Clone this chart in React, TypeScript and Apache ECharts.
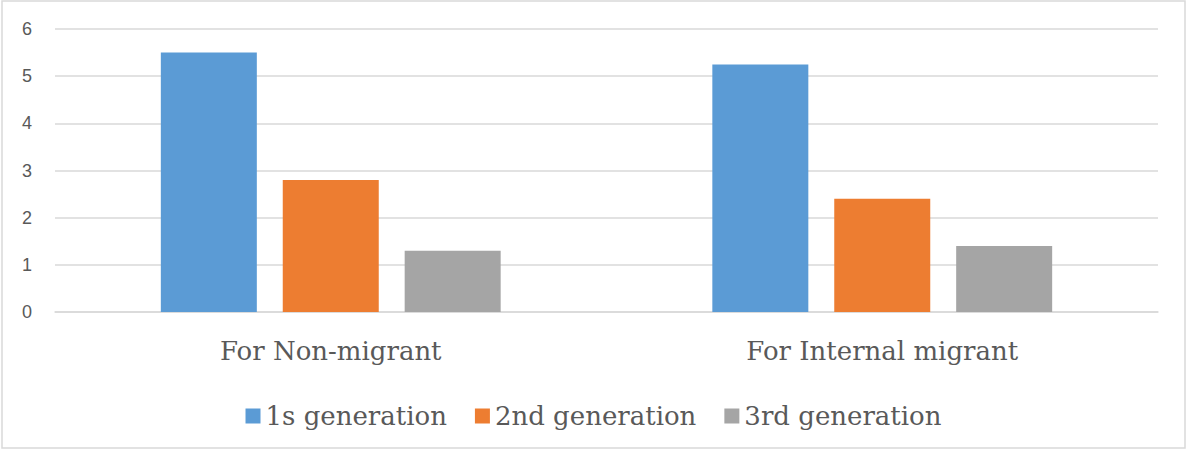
import React, { useEffect, useRef } from "react";
import * as echarts from "echarts";

const categories = ["For Non-migrant", "For Internal migrant"];
const seriesNames = ["1s generation", "2nd generation", "3rd generation"];
const firstGen = [5.5, 5.25];
const secondGen = [2.8, 2.4];
const thirdGen = [1.3, 1.4];
const yTicks = [0, 1, 2, 3, 4, 5, 6];

const colors = ["#5B9BD5", "#ED7D31", "#A5A5A5"];
const serifFont = "DejaVu Serif";
const sansFont = "Liberation Sans";

export default function App() {
  const ref = useRef<HTMLDivElement>(null);

  useEffect(() => {
    if (!ref.current) return;
    const chart = echarts.init(ref.current, null, { renderer: "svg" });
    const values = [firstGen, secondGen, thirdGen];

    chart.setOption({
      animation: false,
      backgroundColor: "#ffffff",
      color: colors,
      graphic: [
        {
          type: "rect",
          shape: { x: 2, y: 1, width: 1183, height: 447 },
          style: { fill: "none", stroke: "#d9d9d9", lineWidth: 1.5 },
          silent: true,
        },
      ],
      grid: { left: 55, right: 29, top: 29, bottom: 138, containLabel: false },
      legend: {
        data: seriesNames,
        top: 398,
        left: "center",
        icon: "rect",
        itemWidth: 15,
        itemHeight: 15,
        itemGap: 28,
        itemTextGap: 10,
        textStyle: { fontFamily: serifFont, fontSize: 26, color: "#595959" },
      },
      xAxis: {
        type: "category",
        data: categories,
        axisLine: { show: true, lineStyle: { color: "#d9d9d9", width: 1.5 } },
        axisTick: { show: false },
        axisLabel: {
          margin: 26,
          fontFamily: serifFont,
          fontSize: 26,
          color: "#595959",
        },
      },
      yAxis: {
        type: "value",
        min: yTicks[0],
        max: yTicks[yTicks.length - 1],
        interval: 1,
        axisLine: { show: false },
        axisTick: { show: false },
        splitLine: { lineStyle: { color: "#d9d9d9", width: 1.5 } },
        axisLabel: {
          margin: 23,
          fontFamily: sansFont,
          fontSize: 18,
          color: "#595959",
        },
      },
      series: seriesNames.map((name, i) => ({
        name,
        type: "bar",
        data: values[i],
        barWidth: 96,
        barGap: "27%",
        itemStyle: { color: colors[i] },
      })),
    });

    return () => chart.dispose();
  }, []);

  return (
    <div
      ref={ref}
      style={{ position: "fixed", left: 0, top: 0, width: 1187, height: 450 }}
    />
  );
}
